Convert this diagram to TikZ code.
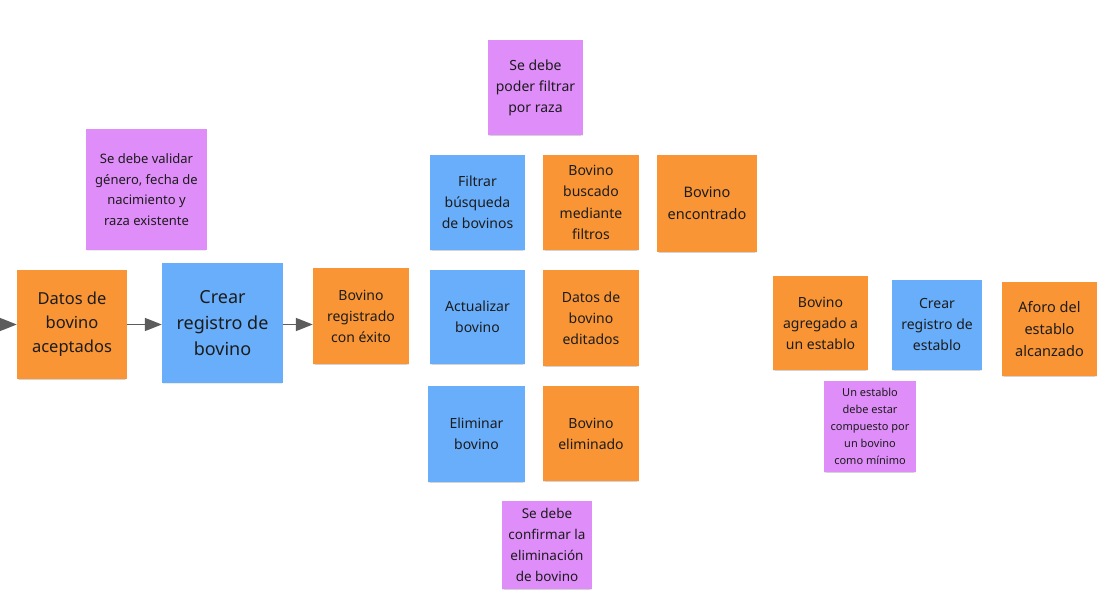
\documentclass[tikz,border=0pt]{standalone}
\usepackage{fontspec}
\setmainfont{Noto Sans}
\usetikzlibrary{shadows,arrows.meta}
\definecolor{stOrange}{HTML}{F99535}
\definecolor{stBlue}{HTML}{68AEFB}
\definecolor{stPurple}{HTML}{DF8DF9}
\definecolor{txtDark}{HTML}{1C1C1C}
\definecolor{arrGray}{HTML}{5C5C5C}
\tikzset{
  sticky/.style={inner sep=0pt, align=center, text=txtDark,
    drop shadow={shadow xshift=0pt, shadow yshift=-3pt, opacity=0.10, fill=black, shadow scale=0.96},
    drop shadow={shadow xshift=0pt, shadow yshift=-1.5pt, opacity=0.08, fill=black, shadow scale=0.99}},
  onote/.style={sticky, fill=stOrange},
  bnote/.style={sticky, fill=stBlue},
  pnote/.style={sticky, fill=stPurple},
  sz/.style 2 args={minimum width=#1pt, minimum height=#2pt},
  fnt/.style 2 args={font=\fontsize{#1pt}{#2pt}\selectfont},
  flow/.style={draw=arrGray, line width=1.6pt, -{Triangle[length=17pt,width=13pt]}}
}
\begin{document}
\begin{tikzpicture}[x=1pt,y=-1pt]
\useasboundingbox[fill=white] (0,0) rectangle (1107,612);
% left column
\node[pnote, sz={121}{121}, fnt={13}{20.5}] (p1) at (146.5,189.5) {Se debe validar\\género, fecha de\\nacimiento y\\raza existente};
\node[onote, sz={110}{109}, fnt={16.5}{24}] (o2) at (72,324.5) {Datos de\\bovino\\aceptados};
\node[bnote, sz={121}{120}, fnt={18}{26}] (b3) at (222.5,323) {Crear\\registro de\\bovino};
\node[onote, sz={96}{96}, fnt={14}{21}] (o4) at (361,316) {Bovino\\registrado\\con éxito};
% middle
\node[pnote, sz={95}{95}, fnt={14}{21}] (p5) at (535.5,87.5) {Se debe\\poder filtrar\\por raza};
\node[bnote, sz={95}{95}, fnt={14}{21}] (b6) at (477.5,202.5) {Filtrar\\búsqueda\\de bovinos};
\node[onote, sz={96}{95}, fnt={14}{21.5}] (o7) at (591,202.5) {Bovino\\buscado\\mediante\\filtros};
\node[onote, sz={100}{97}, fnt={14.5}{22}] (o8) at (707,203.5) {Bovino\\encontrado};
\node[bnote, sz={95}{94}, fnt={14}{21}] (b9) at (477.5,317) {Actualizar\\bovino};
\node[onote, sz={96}{96}, fnt={14}{21}] (o10) at (591,318) {Datos de\\bovino\\editados};
\node[bnote, sz={97}{96}, fnt={14}{21}] (b11) at (476.5,434) {Eliminar\\bovino};
\node[onote, sz={96}{95}, fnt={14}{21}] (o12) at (591,433.5) {Bovino\\eliminado};
\node[pnote, sz={90}{88}, fnt={13.5}{21}] (p13) at (547,545) {Se debe\\confirmar la\\eliminación\\de bovino};
% right
\node[onote, sz={95}{94}, fnt={14}{21}] (o14) at (820.5,323) {Bovino\\agregado a\\un establo};
\node[bnote, sz={90}{90}, fnt={14}{21}] (b15) at (937,325) {Crear\\registro de\\establo};
\node[onote, sz={95}{94}, fnt={14.5}{22}] (o16) at (1049.5,329) {Aforo del\\establo\\alcanzado};
\node[pnote, sz={92}{91}, fnt={11}{17}] (p17) at (870,426.5) {Un establo\\debe estar\\compuesto por\\un bovino\\como mínimo};
% connectors
\coordinate (start) at (0,324.5);
\draw[flow] (start) -- (o2.west);
\draw[flow] (o2.east) -- (o2.east -| b3.west);
\draw[flow] (o2.east -| b3.east) -- (o2.east -| o4.west);
\end{tikzpicture}
\end{document}
